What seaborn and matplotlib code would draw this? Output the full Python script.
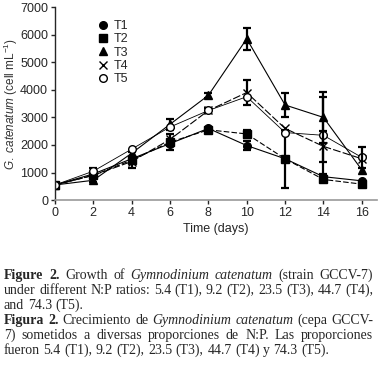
import numpy as np
import pandas as pd
import matplotlib.pyplot as plt
import seaborn as sns
from matplotlib.lines import Line2D

# values (cells per mL)
days = [0, 2, 4, 6, 8, 10, 12, 14, 16]
t1 = [550, 950, 1500, 2050, 2600, 1980, 1500, 850, 700]
t2 = [550, 900, 1450, 2100, 2550, 2400, 1500, 750, 580]
t3 = [550, 720, 1700, 2750, 3800, 5850, 3450, 3000, 1100]
t4 = [550, 900, 1400, 2200, 3250, 3900, 2600, 1950, 1500]
t5 = [550, 1050, 1850, 2650, 3250, 3750, 2450, 2350, 1550]

# error bars (0 = not shown)
t1_err = [0, 0, 0, 0, 0, 150, 0, 0, 0]
t2_err = [0, 250, 300, 280, 0, 150, 1050, 0, 0]
t3_err = [0, 0, 0, 200, 100, 400, 450, 920, 0]
t4_err = [0, 0, 0, 0, 100, 450, 0, 560, 0]
t5_err = [0, 0, 0, 0, 0, 0, 0, 1400, 380]

labels = ['T1', 'T2', 'T3', 'T4', 'T5']
series = [t1, t2, t3, t4, t5]
errors = [t1_err, t2_err, t3_err, t4_err, t5_err]

df = pd.DataFrame({
    'day': days * 5,
    'cells': sum(series, []),
    'err': sum(errors, []),
    'treatment': sum([[l] * len(days) for l in labels], []),
})

sns.set_style('ticks')
plt.rcParams['font.family'] = ['Liberation Sans', 'DejaVu Sans']
plt.rcParams['mathtext.fontset'] = 'custom'
plt.rcParams['mathtext.rm'] = 'Liberation Sans'
plt.rcParams['mathtext.it'] = 'Liberation Sans:italic'

fig = plt.figure(figsize=(3.79, 3.72), dpi=100)
ax = fig.add_axes([0.145, 0.462, 0.85, 0.519])

styles = {
    'T1': dict(marker='o', ls='-', mfc='black', lw=0.8),
    'T2': dict(marker='s', ls=(0, (5, 2)), mfc='black', lw=0.8),
    'T3': dict(marker='^', ls='-', mfc='black', lw=0.8),
    'T4': dict(marker='x', ls=(0, (7, 2)), mfc='black', lw=0.8),
    'T5': dict(marker='o', ls='-', mfc='white', lw=0.6),
}

for lab in labels:
    sub = df[df['treatment'] == lab]
    st = styles[lab]
    sns.lineplot(data=sub, x='day', y='cells', ax=ax, color='black',
                 linestyle=st['ls'], linewidth=st['lw'], marker=st['marker'],
                 markersize=5.5, markerfacecolor=st['mfc'],
                 markeredgecolor='black', markeredgewidth=1, legend=False)
    e = sub[sub['err'] > 0]
    ax.errorbar(e['day'], e['cells'], yerr=e['err'], fmt='none',
                ecolor='black', elinewidth=1.6, capsize=3, capthick=1.6)

ax.set_xlim(0, 16.8)
ax.set_ylim(0, 7000)
ax.set_xticks(range(0, 17, 2))
ax.set_yticks(range(0, 7001, 1000))
ax.tick_params(labelsize=9, length=3, width=1, pad=2)
ax.set_xlabel('Time (days)', fontsize=9, labelpad=3)
ax.set_ylabel(r'$\it{G.\ catenatum}$ (cell mL$^{-1}$)', fontsize=8.5)
ax.yaxis.set_label_coords(-0.108, 0.5)
ax.yaxis.label.set_color('#333333')
sns.despine(ax=ax)
ax.spines['left'].set_linewidth(1)
ax.spines['bottom'].set_color('#999999')
ax.spines['bottom'].set_linewidth(1.2)

handles = [Line2D([], [], ls='none', marker=styles[l]['marker'], color='black',
                  mfc=styles[l]['mfc'], mec='black', markersize=5.5) for l in labels]
ax.legend(handles, labels, loc='upper left', bbox_to_anchor=(0.1, 0.99),
          frameon=False, fontsize=9, handlelength=0.8, handletextpad=0.4,
          labelspacing=0.1)

# caption: (text, style) segments per line, justified like the journal page
caption = [
    ([('Figure 2.', 'b'), ('Growth of', 'r'), ('Gymnodinium catenatum', 'i'),
      ('(strain GCCV-7)', 'r')], True),
    ([('under different N:P ratios: 5.4 (T1), 9.2 (T2), 23.5 (T3), 44.7 (T4),', 'r')], True),
    ([('and 74.3 (T5).', 'r')], False),
    ([('Figura 2.', 'b'), ('Crecimiento de', 'r'), ('Gymnodinium catenatum', 'i'),
      ('(cepa GCCV-', 'r')], True),
    ([('7) sometidos a diversas proporciones de N:P. Las proporciones', 'r')], True),
    ([('fueron 5.4 (T1), 9.2 (T2), 23.5 (T3), 44.7 (T4) y 74.3 (T5).', 'r')], False),
]

renderer = fig.canvas.get_renderer()
W = fig.bbox.width
left, right = 4, 373
font = dict(fontsize=10, family='Liberation Serif', va='baseline', ha='left')
probe = fig.text(0, 0, 'a a', **font)
probe2 = fig.text(0, 0, 'aa', **font)
space = probe.get_window_extent(renderer).width - probe2.get_window_extent(renderer).width
probe.remove()
probe2.remove()

for i, (segs, justify) in enumerate(caption):
    y = 1 - (279 + 15 * i) / 372
    texts = []
    for seg, s in segs:
        for w in seg.split(' '):
            t = fig.text(0, y, w, fontweight='bold' if s == 'b' else 'normal',
                         fontstyle='italic' if s == 'i' else 'normal', **font)
            texts.append(t)
    widths = [t.get_window_extent(renderer).width for t in texts]
    gap = (right - left - sum(widths)) / (len(texts) - 1) if justify else space
    x = left
    for t, w in zip(texts, widths):
        t.set_x(x / W)
        x += w + gap

fig.savefig('out.png', dpi=100)
